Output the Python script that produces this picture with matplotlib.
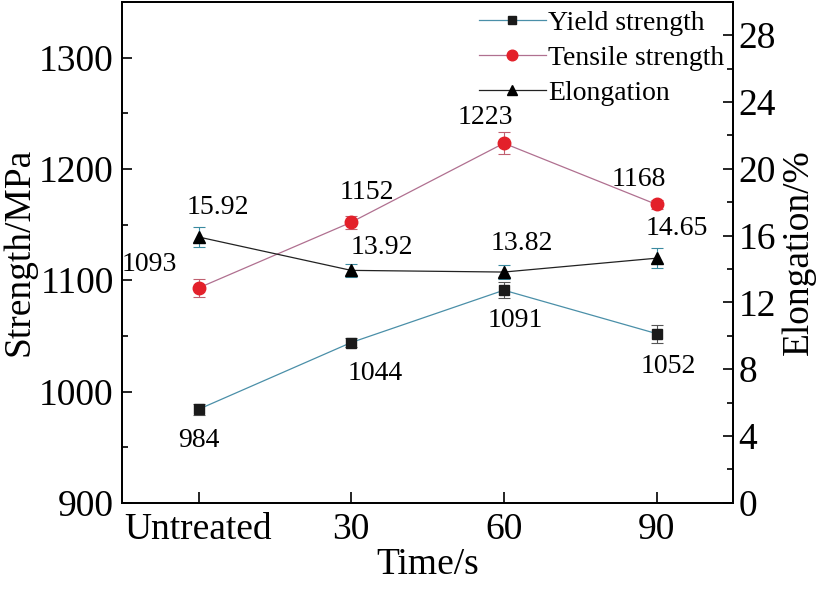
import matplotlib
matplotlib.use("Agg")
import matplotlib.pyplot as plt
from matplotlib.ticker import MultipleLocator

plt.rcParams['font.family'] = ['Liberation Serif', 'DejaVu Serif']
plt.rcParams['mathtext.fontset'] = 'stix'

categories = ["Untreated", "30", "60", "90"]
yield_strength = [984, 1044, 1091, 1052]
yield_err = [5, 4, 7, 8]
tensile_strength = [1093, 1152, 1223, 1168]
tensile_err = [8, 6, 10, 4]
elongation = [15.92, 13.92, 13.82, 14.65]
elong_err = [0.6, 0.4, 0.4, 0.6]
elong_labels = ["15.92", "13.92", "13.82", "14.65"]

x = list(range(len(categories)))

fig = plt.figure(figsize=(8.31, 6.11), dpi=100)
ax = fig.add_axes([0.147, 0.177, 0.735, 0.820])
ax2 = ax.twinx()

l1 = ax.errorbar(x, yield_strength, yerr=yield_err, color='#4a8fa8', lw=0.9,
                 marker='s', ms=7, mfc='#1a1a1a', mec='#1a1a1a',
                 ecolor='#555555', elinewidth=0.8, capsize=4, capthick=0.8,
                 label='Yield strength')
l2 = ax.errorbar(x, tensile_strength, yerr=tensile_err, color='#b07090', lw=0.9,
                 marker='o', ms=9, mfc='#e3202a', mec='#e3202a',
                 ecolor='#c06070', elinewidth=0.8, capsize=4, capthick=0.8,
                 label='Tensile strength')
l3 = ax2.errorbar(x, elongation, yerr=elong_err, color='#222222', lw=0.9,
                  marker='^', ms=9, mfc='black', mec='black',
                  ecolor='#3a8aa0', elinewidth=0.8, capsize=4, capthick=0.8,
                  label='Elongation')

ax.set_xlim(-0.5, 3.5)
ax.set_ylim(900, 1350)
ax2.set_ylim(0, 30)
ax.set_xticks(x)
ax.set_xticklabels(categories)
ax.yaxis.set_major_locator(MultipleLocator(100))
ax.yaxis.set_minor_locator(MultipleLocator(50))
ax2.yaxis.set_major_locator(MultipleLocator(4))
ax2.yaxis.set_minor_locator(MultipleLocator(2))

tfs = 27
ax.tick_params(axis='both', which='both', direction='in', labelsize=tfs, width=1.2)
ax.tick_params(axis='y', which='major', length=7, pad=6)
ax.tick_params(axis='y', which='minor', length=4)
ax.tick_params(axis='x', which='major', length=8, pad=7)
ax.tick_params(axis='x', which='minor', length=0)
ax2.tick_params(axis='y', which='both', direction='in', labelsize=tfs, width=1.2)
ax2.tick_params(axis='y', which='major', length=7, pad=4)
ax2.tick_params(axis='y', which='minor', length=4)
for sp in ax.spines.values():
    sp.set_linewidth(1.3)
for sp in ax2.spines.values():
    sp.set_linewidth(1.3)

ax.set_xlabel('Time/s', fontsize=27, labelpad=0)
ax.set_ylabel('Strength/MPa', fontsize=27, labelpad=2)
ax2.set_ylabel('Elongation/%', fontsize=27, labelpad=4)

fs = 20
y_off = [(0, -31), (24, -31), (11, -30), (12, -33)]
t_off = [(-49, 23), (16, 30), (-19, 26), (-18, 25)]
e_off = [(19, 29), (31, 23), (18, 29), (20, 30)]
for i in x:
    ax.annotate(str(yield_strength[i]), (x[i], yield_strength[i]), xytext=y_off[i],
                textcoords='offset pixels', ha='center', va='center', fontsize=fs)
    ax.annotate(str(tensile_strength[i]), (x[i], tensile_strength[i]), xytext=t_off[i],
                textcoords='offset pixels', ha='center', va='center', fontsize=fs)
    ax2.annotate(elong_labels[i], (x[i], elongation[i]), xytext=e_off[i],
                 textcoords='offset pixels', ha='center', va='center', fontsize=fs)

handles = [l1.lines[0], l2.lines[0], l3.lines[0]]
labels = ['Yield strength', 'Tensile strength', 'Elongation']
leg = ax2.legend(handles, labels, loc='upper right',
                 frameon=False, fontsize=20, handlelength=2.4, handletextpad=0.1,
                 borderaxespad=0.1, labelspacing=0.35, borderpad=0.2,
                 markerscale=0.85)

fig.savefig('out.png', dpi=100)
